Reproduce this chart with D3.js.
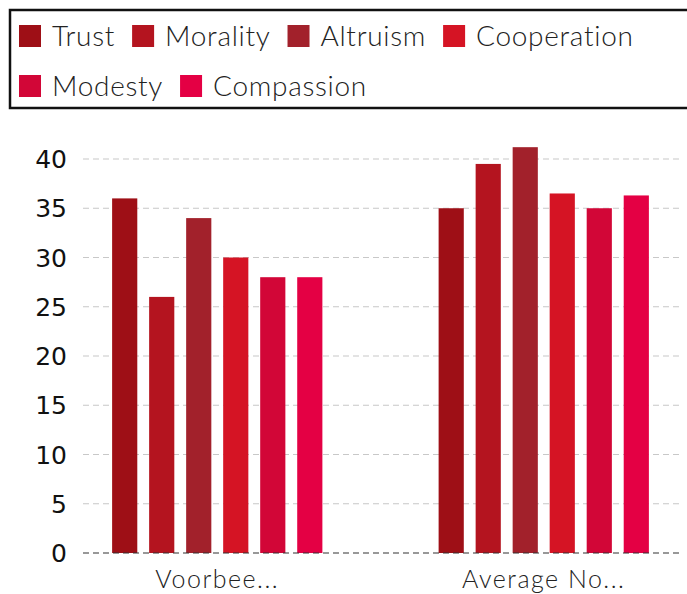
<!doctype html>
<html lang="en">
<head>
<meta charset="utf-8">
<title>Chart</title>
<style>
  body { margin: 0; background: #fff; }
  svg { display: block; }
</style>
</head>
<body>
<svg class="chart"></svg>
<script src="https://d3js.org/d3.v7.min.js"></script>
<script>
var groups = ["Voorbee...", "Average No..."];
var series = ["Trust", "Morality", "Altruism", "Cooperation", "Modesty", "Compassion"];
var colors = ["#9e0f16", "#b4141f", "#a2212b", "#d51424", "#d20637", "#e40044"];
var voorbeeld = [36, 26, 34, 30, 28, 28];
var average = [35, 39.5, 41.2, 36.5, 35, 36.3];
var yTicks = [0, 5, 10, 15, 20, 25, 30, 35, 40];

var width = 687, height = 594;
var values = [voorbeeld, average];
var labelFont = "Lato, 'Open Sans', sans-serif";

var svg = d3.select(".chart")
    .attr("width", width)
    .attr("height", height);

// legend
var legend = svg.append("g");
legend.append("rect")
    .attr("x", 10).attr("y", 10)
    .attr("width", 700).attr("height", 98)
    .attr("fill", "none")
    .attr("stroke", "#111")
    .attr("stroke-width", 2.5);

var lx = 19, ly = 36, rowH = 50;
series.forEach(function(s, i) {
  var item = legend.append("g");
  item.append("rect")
      .attr("width", 22).attr("height", 22)
      .attr("y", -11)
      .attr("fill", colors[i]);
  var t = item.append("text")
      .attr("x", 33)
      .attr("dy", "0.36em")
      .attr("font-family", labelFont)
      .attr("font-weight", 300)
      .attr("font-size", 28)
      .attr("letter-spacing", 0.7)
      .attr("fill", "#222")
      .text(s);
  var w = 33 + t.node().getComputedTextLength();
  if (lx + w > 670) { lx = 19; ly += rowH; }
  item.attr("transform", "translate(" + lx + "," + ly + ")");
  lx += w + 17;
});

// plot
var x0 = d3.scaleBand().domain(groups).range([54, 707]);
var x1 = d3.scaleBand().domain(series).range([0, x0.bandwidth()])
    .paddingInner(0.32).paddingOuter(1.57);
var y = d3.scaleLinear().domain([0, 40]).range([553, 159]);

var grid = svg.append("g");
grid.selectAll("line")
    .data(yTicks.filter(function(d) { return d > 0; }))
  .enter().append("line")
    .attr("x1", 83).attr("x2", 682)
    .attr("y1", function(d) { return y(d); })
    .attr("y2", function(d) { return y(d); })
    .attr("stroke", "#c8c8c8")
    .attr("stroke-width", 1.2)
    .attr("stroke-dasharray", "6,4");

svg.append("g")
    .selectAll("text")
    .data(yTicks)
  .enter().append("text")
    .attr("x", 67)
    .attr("y", function(d) { return y(d); })
    .attr("dy", "0.36em")
    .attr("text-anchor", "end")
    .attr("font-family", "'DejaVu Sans', sans-serif")
    .attr("font-size", 25)
    .attr("fill", "#111")
    .text(function(d) { return d; });

var g = svg.selectAll(".grp")
    .data(groups)
  .enter().append("g")
    .attr("class", "grp")
    .attr("transform", function(d) { return "translate(" + x0(d) + ",0)"; });

g.selectAll("rect")
    .data(function(d, gi) { return series.map(function(s, i) { return { s: s, i: i, v: values[gi][i] }; }); })
  .enter().append("rect")
    .attr("x", function(d) { return x1(d.s); })
    .attr("width", x1.bandwidth())
    .attr("y", function(d) { return y(d.v); })
    .attr("height", function(d) { return y(0) - y(d.v); })
    .attr("fill", function(d) { return colors[d.i]; });

svg.append("line")
    .attr("x1", 83).attr("x2", 682)
    .attr("y1", y(0)).attr("y2", y(0))
    .attr("stroke", "#333")
    .attr("stroke-width", 1.2)
    .attr("stroke-dasharray", "6,4");

svg.append("g")
    .selectAll("text")
    .data(groups)
  .enter().append("text")
    .attr("x", function(d) { return x0(d) + x0.bandwidth() / 2; })
    .attr("y", 588)
    .attr("text-anchor", "middle")
    .attr("font-family", labelFont)
    .attr("font-weight", 300)
    .attr("font-size", 25)
    .attr("letter-spacing", 1.5)
    .attr("fill", "#222")
    .text(function(d) { return d; });
</script>
</body>
</html>
